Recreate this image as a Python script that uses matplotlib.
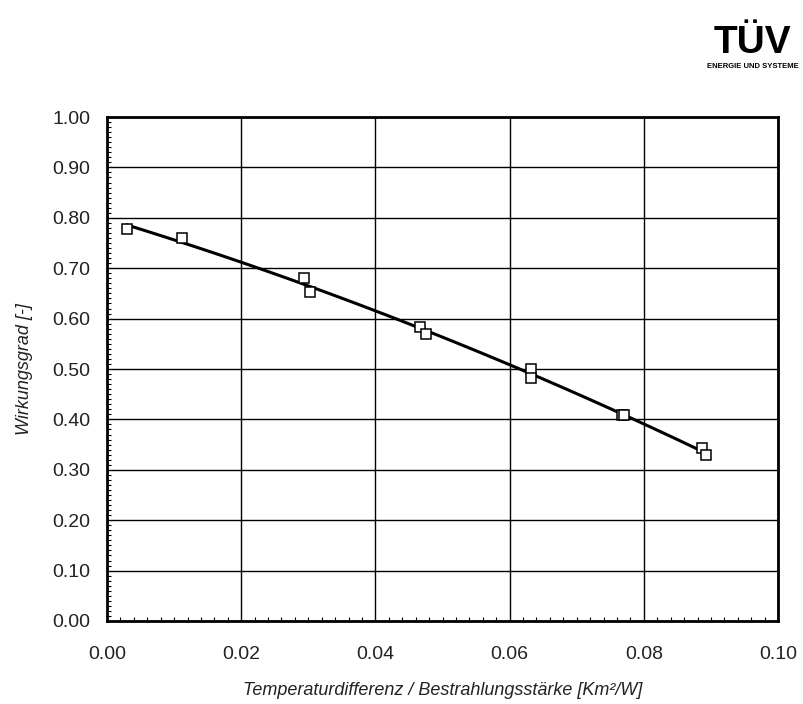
import matplotlib
matplotlib.use("Agg")
import matplotlib.pyplot as plt
import numpy as np
from matplotlib.ticker import MultipleLocator, FormatStrFormatter

plt.rcParams['font.family'] = ['Liberation Sans', 'DejaVu Sans']

# measured points: T*/G vs. efficiency
x_meas = [0.0030, 0.0112, 0.0294, 0.0303, 0.0466, 0.0475,
          0.0632, 0.0632, 0.0767, 0.0771, 0.0887, 0.0892]
eta_meas = [0.778, 0.760, 0.681, 0.653, 0.583, 0.569,
            0.500, 0.482, 0.409, 0.409, 0.343, 0.329]

# fitted collector curve (second-order fit of the measurements)
coef = np.polyfit(x_meas, eta_meas, 2)
x_fit = np.linspace(0.003, 0.0895, 100)
eta_fit = np.polyval(coef, x_fit)

fig = plt.figure(figsize=(8.04, 7.04), dpi=100)
ax = fig.add_axes([0.1331, 0.1179, 0.8346, 0.7159])

ax.plot(x_fit, eta_fit, color='black', lw=2.2, zorder=3)
ax.plot(x_meas, eta_meas, 's', mfc='white', mec='black', ms=7, mew=1.1, zorder=4)

ax.set_xlim(0, 0.1)
ax.set_ylim(0, 1.0)
ax.xaxis.set_major_locator(MultipleLocator(0.02))
ax.yaxis.set_major_locator(MultipleLocator(0.1))
ax.xaxis.set_minor_locator(MultipleLocator(0.002))
ax.yaxis.set_minor_locator(MultipleLocator(0.01))
ax.xaxis.set_major_formatter(FormatStrFormatter('%.2f'))
ax.yaxis.set_major_formatter(FormatStrFormatter('%.2f'))

ax.grid(True, which='major', color='black', lw=1.0)
ax.tick_params(which='major', length=0, labelsize=14, colors='#222222')
ax.tick_params(axis='x', which='major', pad=18)
ax.tick_params(axis='y', which='major', pad=12)
ax.tick_params(which='minor', direction='in', length=3, width=0.8)
for s in ax.spines.values():
    s.set_linewidth(2.0)

ax.set_xlabel('Temperaturdifferenz / Bestrahlungsstärke [Km²/W]',
              fontsize=13, style='italic', labelpad=14, color='#222222')
ax.set_ylabel('Wirkungsgrad [-]', fontsize=13, style='italic', labelpad=14,
              color='#222222')

# TÜV logo
fig.text(0.936, 0.913, 'TÜV', fontsize=28, fontweight='bold', ha='center',
         va='bottom', color='black')
fig.text(0.937, 0.905, 'ENERGIE UND SYSTEME', fontsize=5.5, fontweight='heavy',
         ha='center', va='center', color='black')

fig.savefig('out.png', dpi=100)
